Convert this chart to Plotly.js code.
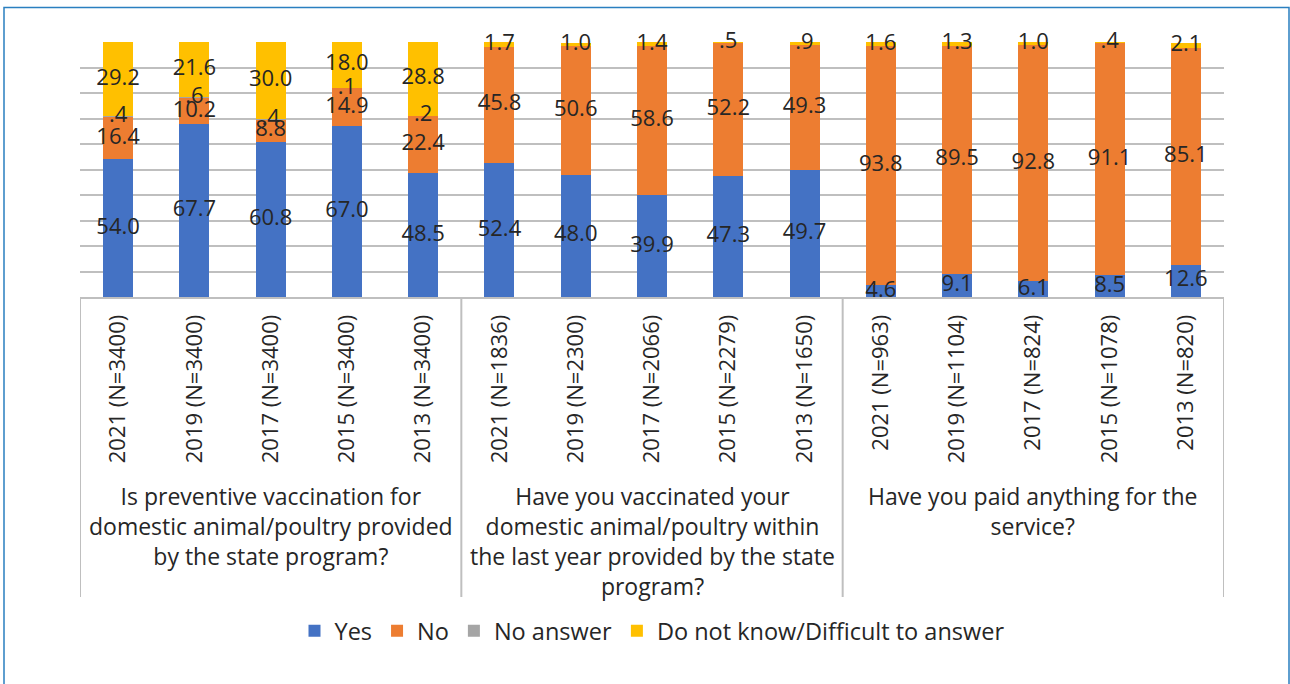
<!DOCTYPE html>
<html>
<head>
<meta charset="utf-8">
<script src="https://cdn.plot.ly/plotly-3.0.1.min.js"></script>
<style>
  html, body { margin: 0; padding: 0; background: #ffffff; }
  #chart { width: 1290px; height: 684px; }
</style>
</head>
<body>
<div id="chart"></div>
<script>
// Survey years with sample sizes, one block of five per question
const yearLabels = [
  "2021 (N=3400)", "2019 (N=3400)", "2017 (N=3400)", "2015 (N=3400)", "2013 (N=3400)",
  "2021 (N=1836)", "2019 (N=2300)", "2017 (N=2066)", "2015 (N=2279)", "2013 (N=1650)",
  "2021 (N=963)", "2019 (N=1104)", "2017 (N=824)", "2015 (N=1078)", "2013 (N=820)"
];

const questions = [
  "Is preventive vaccination for<br>domestic animal/poultry provided<br>by the state program?",
  "Have you vaccinated your<br>domestic animal/poultry within<br>the last year provided by the state<br>program?",
  "Have you paid anything for the<br>service?"
];

// Shares of answers, %
const yesValues = [54.0, 67.7, 60.8, 67.0, 48.5, 52.4, 48.0, 39.9, 47.3, 49.7, 4.6, 9.1, 6.1, 8.5, 12.6];
const noValues = [16.4, 10.2, 8.8, 14.9, 22.4, 45.8, 50.6, 58.6, 52.2, 49.3, 93.8, 89.5, 92.8, 91.1, 85.1];
const noAnswerValues = [0.4, 0.6, 0.4, 0.1, 0.2, null, null, null, null, null, null, null, null, null, null];
const dontKnowValues = [29.2, 21.6, 30.0, 18.0, 28.8, 1.7, 1.0, 1.4, 0.5, 0.9, 1.6, 1.3, 1.0, 0.4, 2.1];

const seriesNames = ["Yes", "No", "No answer", "Do not know/Difficult to answer"];
const seriesColors = ["#4472C4", "#ED7D31", "#A5A5A5", "#FFC000"];

const FONT = "'Open Sans', 'Noto Sans', sans-serif";
const TEXT_COLOR = "#262626";
const GRID = "#BFBFBF";

// One decimal, leading zero dropped (".4")
function fmt(v) {
  if (v === null || v === undefined) return "";
  return v.toFixed(1).replace(/^0\./, ".");
}

const allValues = [yesValues, noValues, noAnswerValues, dontKnowValues];

// Stacked bars
const barTraces = allValues.map((vals, i) => ({
  type: "bar",
  name: seriesNames[i],
  x: yearLabels,
  y: vals,
  marker: { color: seriesColors[i], line: { width: 0 } },
  hoverinfo: "skip"
}));

// Value labels centred on each segment, drawn above every bar
const running = yearLabels.map(() => 0);
const labelTraces = allValues.map((vals) => {
  const xs = [], ys = [], ts = [];
  vals.forEach((v, k) => {
    if (v === null || v === undefined) return;
    xs.push(yearLabels[k]);
    ys.push(running[k] + v / 2);
    ts.push(fmt(v));
    running[k] += v;
  });
  return {
    type: "scatter", mode: "text",
    x: xs, y: ys, text: ts,
    textposition: "middle center",
    textfont: { family: FONT, size: 22, color: TEXT_COLOR },
    cliponaxis: false,
    showlegend: false,
    hoverinfo: "skip"
  };
});

// Plot area geometry in pixels
const W = 1290, H = 684;
const L = 80, R = 1224, T = 42, B = 297;
const plotH = B - T, plotW = R - L;
const py = (pix) => (B - pix) / plotH;   // pixel row -> paper y
const px = (pix) => (pix - L) / plotW;   // pixel column -> paper x

const shapes = [];
// group separators running through the category label area
[-0.5, 4.5, 9.5, 14.5].forEach(xv => {
  shapes.push({
    type: "line", xref: "x", yref: "paper",
    x0: xv, x1: xv, y0: 0, y1: py(597),
    line: { color: GRID, width: 2 }
  });
});
// outer frame
shapes.push({
  type: "rect", xref: "paper", yref: "paper",
  x0: px(4), x1: px(1289), y0: py(7.5), y1: py(720),
  line: { color: "#2A7FC0", width: 1.5 },
  fillcolor: "rgba(0,0,0,0)"
});

const annotations = questions.map((q, g) => ({
  xref: "x", yref: "paper",
  x: g * 5 + 2, y: py(478),
  xanchor: "center", yanchor: "top",
  text: q, showarrow: false, align: "center",
  font: { family: FONT, size: 23, color: TEXT_COLOR }
}));

const layout = {
  width: W, height: H,
  margin: { l: L, r: W - R, t: T, b: H - B, pad: 0 },
  paper_bgcolor: "#ffffff",
  plot_bgcolor: "#ffffff",
  barmode: "stack",
  bargap: 0.607,
  font: { family: FONT, size: 22, color: TEXT_COLOR },
  xaxis: {
    type: "category",
    range: [-0.5, yearLabels.length - 0.5],
    showgrid: false,
    showline: true, linecolor: GRID, linewidth: 2,
    ticks: "", tickangle: -90,
    ticklabelstandoff: 7,
    tickfont: { family: FONT, size: 22, color: TEXT_COLOR },
    fixedrange: true
  },
  yaxis: {
    range: [0, 100], dtick: 10,
    showgrid: true, gridcolor: GRID, gridwidth: 2,
    showticklabels: false, ticks: "",
    zeroline: false, showline: false,
    fixedrange: true
  },
  showlegend: true,
  legend: {
    orientation: "h",
    x: 0.5, xanchor: "center",
    y: py(631), yanchor: "middle",
    font: { family: FONT, size: 23.5, color: TEXT_COLOR },
    traceorder: "normal"
  },
  shapes: shapes,
  annotations: annotations
};

Plotly.newPlot("chart", barTraces.concat(labelTraces), layout, { staticPlot: true, displayModeBar: false });
</script>
</body>
</html>
